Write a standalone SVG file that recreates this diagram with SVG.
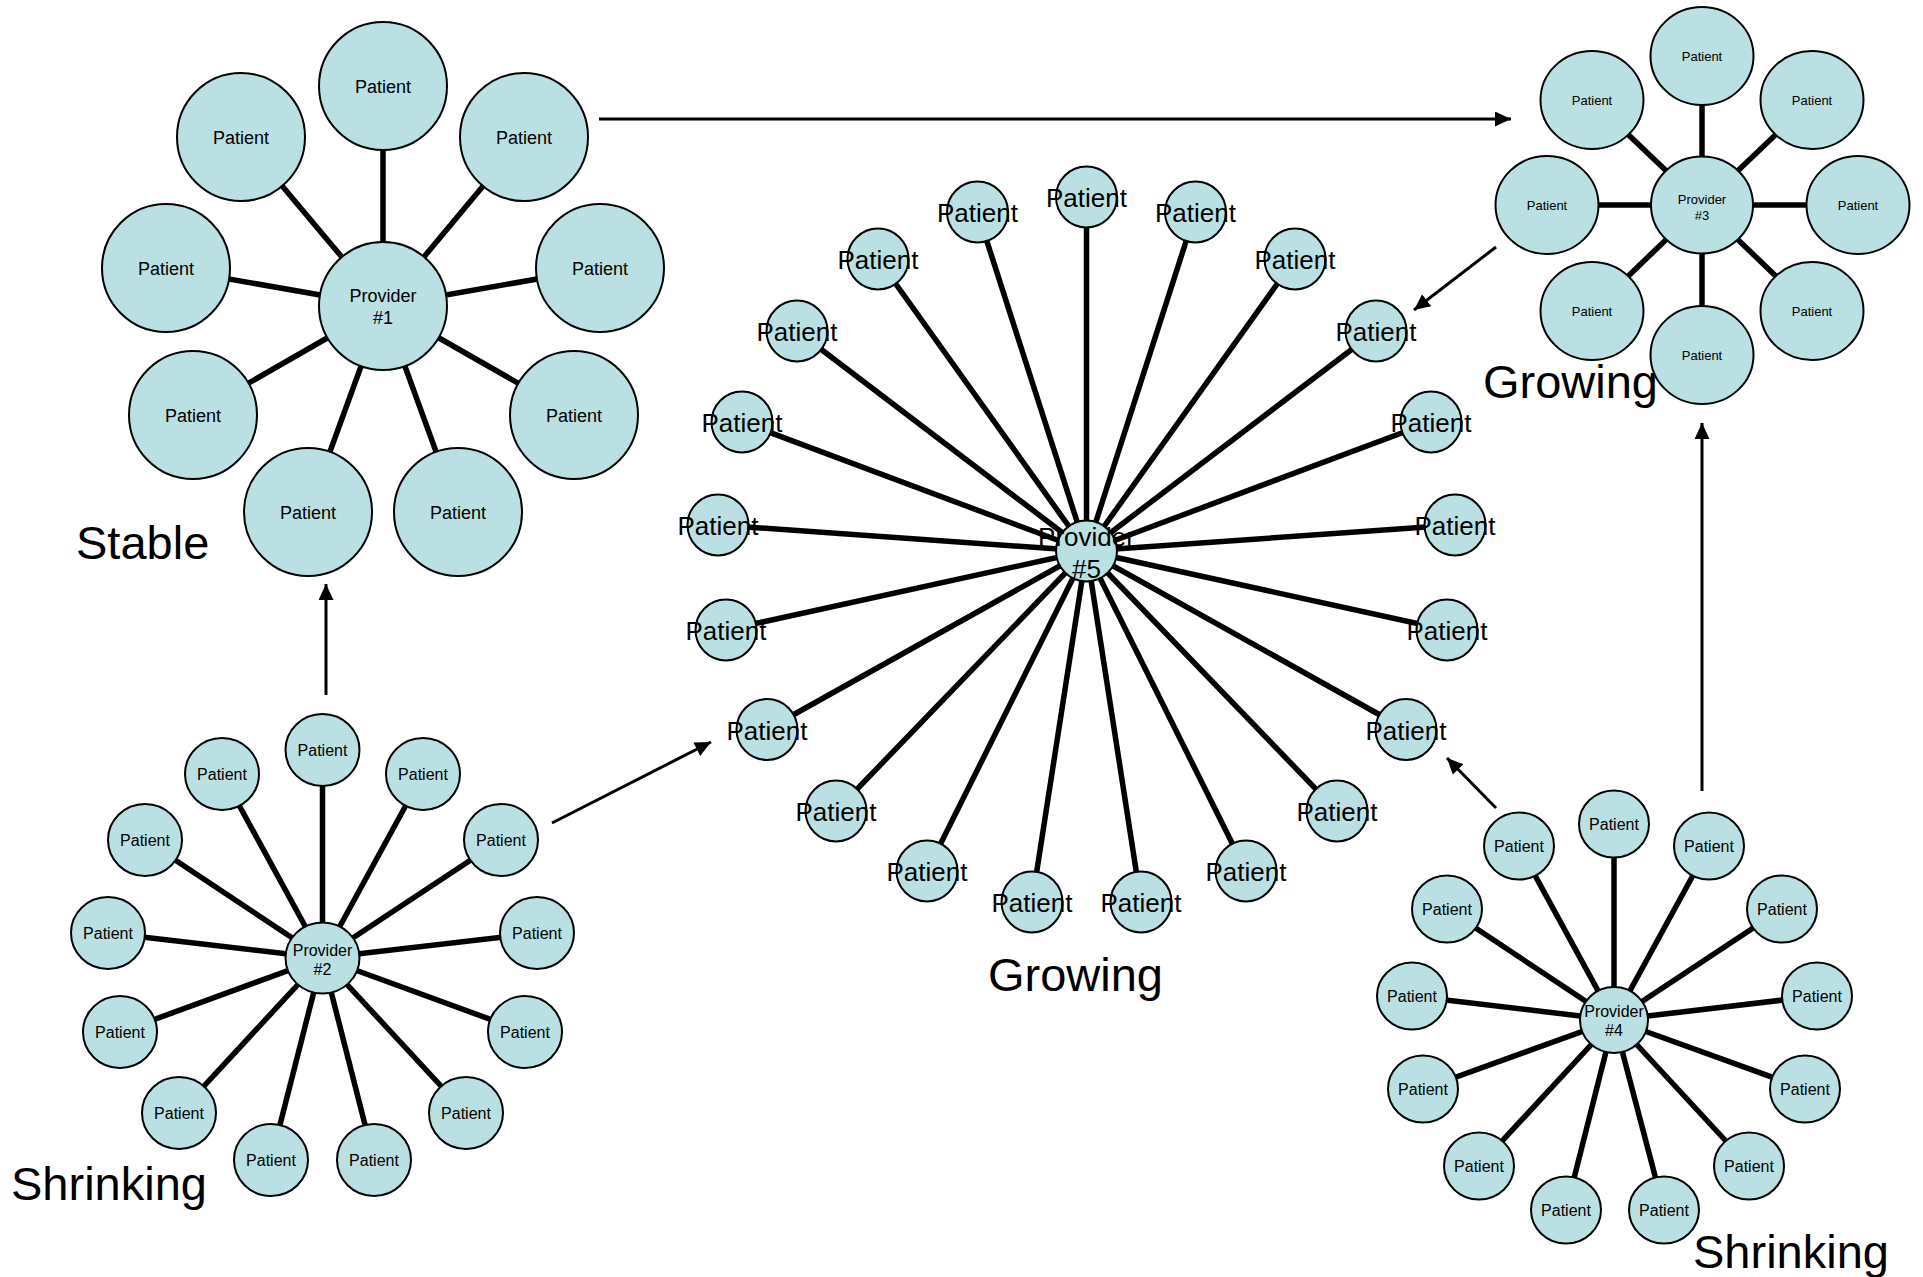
<svg xmlns="http://www.w3.org/2000/svg" width="1923" height="1277" viewBox="0 0 1923 1277">
<style>
.bg{fill:#fff}
.sp{stroke:#000;stroke-width:5.5;fill:none}
.ar{stroke:#000;stroke-width:3;fill:none;marker-end:url(#ah)}
.nf{fill:#BBE0E3;stroke:none}
.ns{fill:none;stroke:#000;stroke-width:2}
text{font-family:"Liberation Sans",Arial,Helvetica,sans-serif;fill:#000;text-anchor:middle}
.t1{font-size:18px}
.t2{font-size:16px}
.t3{font-size:13px}
.t5{font-size:26px}
.big{font-size:47px;text-anchor:start}
</style>
<defs>
<marker id="ah" markerUnits="userSpaceOnUse" markerWidth="17" markerHeight="16" refX="16" refY="7.5" orient="auto">
<path d="M0,0 L16,7.5 L0,15 z" fill="#000"/>
</marker>
</defs>
<rect class="bg" x="0" y="0" width="1923" height="1277"/>
<g id="connectors">
<g id="spokes-p1" class="sp">
<line x1="383" y1="306" x2="383" y2="86"/>
<line x1="383" y1="306" x2="241" y2="137"/>
<line x1="383" y1="306" x2="524" y2="137"/>
<line x1="383" y1="306" x2="166" y2="268"/>
<line x1="383" y1="306" x2="600" y2="268"/>
<line x1="383" y1="306" x2="193" y2="415"/>
<line x1="383" y1="306" x2="574" y2="415"/>
<line x1="383" y1="306" x2="308" y2="512"/>
<line x1="383" y1="306" x2="458" y2="512"/>
</g>
<g id="spokes-p3" class="sp">
<line x1="1702" y1="205" x2="1702" y2="56"/>
<line x1="1702" y1="205" x2="1592" y2="100"/>
<line x1="1702" y1="205" x2="1812" y2="100"/>
<line x1="1702" y1="205" x2="1547" y2="205"/>
<line x1="1702" y1="205" x2="1858" y2="205"/>
<line x1="1702" y1="205" x2="1592" y2="311"/>
<line x1="1702" y1="205" x2="1812" y2="311"/>
<line x1="1702" y1="205" x2="1702" y2="355"/>
</g>
<g id="spokes-p2" class="sp">
<line x1="322.5" y1="958" x2="322.5" y2="750"/>
<line x1="322.5" y1="958" x2="423" y2="774"/>
<line x1="322.5" y1="958" x2="501" y2="840"/>
<line x1="322.5" y1="958" x2="537" y2="933"/>
<line x1="322.5" y1="958" x2="525" y2="1032"/>
<line x1="322.5" y1="958" x2="466" y2="1113"/>
<line x1="322.5" y1="958" x2="374" y2="1160"/>
<line x1="322.5" y1="958" x2="271" y2="1160"/>
<line x1="322.5" y1="958" x2="179" y2="1113"/>
<line x1="322.5" y1="958" x2="120" y2="1032"/>
<line x1="322.5" y1="958" x2="108" y2="933"/>
<line x1="322.5" y1="958" x2="145" y2="840"/>
<line x1="322.5" y1="958" x2="222" y2="774"/>
</g>
<g id="spokes-p4" class="sp">
<line x1="1614" y1="1020" x2="1614" y2="824"/>
<line x1="1614" y1="1020" x2="1709" y2="846"/>
<line x1="1614" y1="1020" x2="1782" y2="909"/>
<line x1="1614" y1="1020" x2="1817" y2="996"/>
<line x1="1614" y1="1020" x2="1805" y2="1089"/>
<line x1="1614" y1="1020" x2="1749" y2="1166"/>
<line x1="1614" y1="1020" x2="1664" y2="1210"/>
<line x1="1614" y1="1020" x2="1566" y2="1210"/>
<line x1="1614" y1="1020" x2="1479" y2="1166"/>
<line x1="1614" y1="1020" x2="1423" y2="1089"/>
<line x1="1614" y1="1020" x2="1412" y2="996"/>
<line x1="1614" y1="1020" x2="1447" y2="909"/>
<line x1="1614" y1="1020" x2="1519" y2="846"/>
</g>
<g id="spokes-p5" class="sp">
<line x1="1086.5" y1="551" x2="1086.5" y2="197"/>
<line x1="1086.5" y1="551" x2="977.5" y2="212"/>
<line x1="1086.5" y1="551" x2="878" y2="259"/>
<line x1="1086.5" y1="551" x2="797" y2="331"/>
<line x1="1086.5" y1="551" x2="742" y2="422"/>
<line x1="1086.5" y1="551" x2="718" y2="525"/>
<line x1="1086.5" y1="551" x2="726" y2="630"/>
<line x1="1086.5" y1="551" x2="767" y2="729.5"/>
<line x1="1086.5" y1="551" x2="836" y2="811"/>
<line x1="1086.5" y1="551" x2="927" y2="871"/>
<line x1="1086.5" y1="551" x2="1032" y2="902"/>
<line x1="1086.5" y1="551" x2="1195.5" y2="212"/>
<line x1="1086.5" y1="551" x2="1295" y2="259"/>
<line x1="1086.5" y1="551" x2="1376" y2="331"/>
<line x1="1086.5" y1="551" x2="1431" y2="422"/>
<line x1="1086.5" y1="551" x2="1455" y2="525"/>
<line x1="1086.5" y1="551" x2="1447" y2="630"/>
<line x1="1086.5" y1="551" x2="1406" y2="729.5"/>
<line x1="1086.5" y1="551" x2="1337" y2="811"/>
<line x1="1086.5" y1="551" x2="1246" y2="871"/>
<line x1="1086.5" y1="551" x2="1141" y2="902"/>
</g>
<g id="arrows">
<line class="ar" x1="599" y1="119" x2="1511" y2="119"/>
<line class="ar" x1="1496" y1="247" x2="1414" y2="310"/>
<line class="ar" x1="552" y1="823" x2="711" y2="742"/>
<line class="ar" x1="1496" y1="808" x2="1447" y2="758"/>
<line class="ar" x1="1702" y1="791" x2="1702" y2="423"/>
<line class="ar" x1="326" y1="695" x2="326" y2="584"/>
</g>
</g>

<g id="provider1">
<circle class="nf" cx="383" cy="306" r="64"/>
<text class="t1" x="383" y="301.5">Provider</text>
<text class="t1" x="383" y="323.5">#1</text>
<circle class="ns" cx="383" cy="306" r="64"/>
</g>
<g id="p1-patients">
<g id="p1-1"><circle class="nf" cx="383" cy="86" r="64"/><text class="t1" x="383" y="92.5">Patient</text><circle class="ns" cx="383" cy="86" r="64"/></g>
<g id="p1-2"><circle class="nf" cx="241" cy="137" r="64"/><text class="t1" x="241" y="143.5">Patient</text><circle class="ns" cx="241" cy="137" r="64"/></g>
<g id="p1-3"><circle class="nf" cx="524" cy="137" r="64"/><text class="t1" x="524" y="143.5">Patient</text><circle class="ns" cx="524" cy="137" r="64"/></g>
<g id="p1-4"><circle class="nf" cx="166" cy="268" r="64"/><text class="t1" x="166" y="274.5">Patient</text><circle class="ns" cx="166" cy="268" r="64"/></g>
<g id="p1-5"><circle class="nf" cx="600" cy="268" r="64"/><text class="t1" x="600" y="274.5">Patient</text><circle class="ns" cx="600" cy="268" r="64"/></g>
<g id="p1-6"><circle class="nf" cx="193" cy="415" r="64"/><text class="t1" x="193" y="421.5">Patient</text><circle class="ns" cx="193" cy="415" r="64"/></g>
<g id="p1-7"><circle class="nf" cx="574" cy="415" r="64"/><text class="t1" x="574" y="421.5">Patient</text><circle class="ns" cx="574" cy="415" r="64"/></g>
<g id="p1-8"><circle class="nf" cx="308" cy="512" r="64"/><text class="t1" x="308" y="518.5">Patient</text><circle class="ns" cx="308" cy="512" r="64"/></g>
<g id="p1-9"><circle class="nf" cx="458" cy="512" r="64"/><text class="t1" x="458" y="518.5">Patient</text><circle class="ns" cx="458" cy="512" r="64"/></g>
</g>

<g id="provider3">
<ellipse class="nf" cx="1702" cy="205" rx="51" ry="48.5"/>
<text class="t3" x="1702" y="203.5">Provider</text>
<text class="t3" x="1702" y="219.5">#3</text>
<ellipse class="ns" cx="1702" cy="205" rx="51" ry="48.5"/>
</g>
<g id="p3-patients">
<g id="p3-1"><ellipse class="nf" cx="1702" cy="56" rx="51.5" ry="49"/><text class="t3" x="1702" y="61">Patient</text><ellipse class="ns" cx="1702" cy="56" rx="51.5" ry="49"/></g>
<g id="p3-2"><ellipse class="nf" cx="1592" cy="100" rx="51.5" ry="49"/><text class="t3" x="1592" y="105">Patient</text><ellipse class="ns" cx="1592" cy="100" rx="51.5" ry="49"/></g>
<g id="p3-3"><ellipse class="nf" cx="1812" cy="100" rx="51.5" ry="49"/><text class="t3" x="1812" y="105">Patient</text><ellipse class="ns" cx="1812" cy="100" rx="51.5" ry="49"/></g>
<g id="p3-4"><ellipse class="nf" cx="1547" cy="205" rx="51.5" ry="49"/><text class="t3" x="1547" y="210">Patient</text><ellipse class="ns" cx="1547" cy="205" rx="51.5" ry="49"/></g>
<g id="p3-5"><ellipse class="nf" cx="1858" cy="205" rx="51.5" ry="49"/><text class="t3" x="1858" y="210">Patient</text><ellipse class="ns" cx="1858" cy="205" rx="51.5" ry="49"/></g>
<g id="p3-6"><ellipse class="nf" cx="1592" cy="311" rx="51.5" ry="49"/><text class="t3" x="1592" y="316">Patient</text><ellipse class="ns" cx="1592" cy="311" rx="51.5" ry="49"/></g>
<g id="p3-7"><ellipse class="nf" cx="1812" cy="311" rx="51.5" ry="49"/><text class="t3" x="1812" y="316">Patient</text><ellipse class="ns" cx="1812" cy="311" rx="51.5" ry="49"/></g>
<g id="p3-8"><ellipse class="nf" cx="1702" cy="355" rx="51.5" ry="49"/><text class="t3" x="1702" y="360">Patient</text><ellipse class="ns" cx="1702" cy="355" rx="51.5" ry="49"/></g>
</g>

<g id="provider2">
<ellipse class="nf" cx="322.5" cy="958" rx="37" ry="35.5"/>
<text class="t2" x="322.5" y="956">Provider</text>
<text class="t2" x="322.5" y="975">#2</text>
<ellipse class="ns" cx="322.5" cy="958" rx="37" ry="35.5"/>
</g>
<g id="p2-patients">
<g id="p2-1"><ellipse class="nf" cx="322.5" cy="750" rx="37" ry="36"/><text class="t2" x="322.5" y="756">Patient</text><ellipse class="ns" cx="322.5" cy="750" rx="37" ry="36"/></g>
<g id="p2-2"><ellipse class="nf" cx="423" cy="774" rx="37" ry="36"/><text class="t2" x="423" y="780">Patient</text><ellipse class="ns" cx="423" cy="774" rx="37" ry="36"/></g>
<g id="p2-3"><ellipse class="nf" cx="501" cy="840" rx="37" ry="36"/><text class="t2" x="501" y="846">Patient</text><ellipse class="ns" cx="501" cy="840" rx="37" ry="36"/></g>
<g id="p2-4"><ellipse class="nf" cx="537" cy="933" rx="37" ry="36"/><text class="t2" x="537" y="939">Patient</text><ellipse class="ns" cx="537" cy="933" rx="37" ry="36"/></g>
<g id="p2-5"><ellipse class="nf" cx="525" cy="1032" rx="37" ry="36"/><text class="t2" x="525" y="1038">Patient</text><ellipse class="ns" cx="525" cy="1032" rx="37" ry="36"/></g>
<g id="p2-6"><ellipse class="nf" cx="466" cy="1113" rx="37" ry="36"/><text class="t2" x="466" y="1119">Patient</text><ellipse class="ns" cx="466" cy="1113" rx="37" ry="36"/></g>
<g id="p2-7"><ellipse class="nf" cx="374" cy="1160" rx="37" ry="36"/><text class="t2" x="374" y="1166">Patient</text><ellipse class="ns" cx="374" cy="1160" rx="37" ry="36"/></g>
<g id="p2-8"><ellipse class="nf" cx="271" cy="1160" rx="37" ry="36"/><text class="t2" x="271" y="1166">Patient</text><ellipse class="ns" cx="271" cy="1160" rx="37" ry="36"/></g>
<g id="p2-9"><ellipse class="nf" cx="179" cy="1113" rx="37" ry="36"/><text class="t2" x="179" y="1119">Patient</text><ellipse class="ns" cx="179" cy="1113" rx="37" ry="36"/></g>
<g id="p2-10"><ellipse class="nf" cx="120" cy="1032" rx="37" ry="36"/><text class="t2" x="120" y="1038">Patient</text><ellipse class="ns" cx="120" cy="1032" rx="37" ry="36"/></g>
<g id="p2-11"><ellipse class="nf" cx="108" cy="933" rx="37" ry="36"/><text class="t2" x="108" y="939">Patient</text><ellipse class="ns" cx="108" cy="933" rx="37" ry="36"/></g>
<g id="p2-12"><ellipse class="nf" cx="145" cy="840" rx="37" ry="36"/><text class="t2" x="145" y="846">Patient</text><ellipse class="ns" cx="145" cy="840" rx="37" ry="36"/></g>
<g id="p2-13"><ellipse class="nf" cx="222" cy="774" rx="37" ry="36"/><text class="t2" x="222" y="780">Patient</text><ellipse class="ns" cx="222" cy="774" rx="37" ry="36"/></g>
</g>

<g id="provider4">
<ellipse class="nf" cx="1614" cy="1020" rx="34" ry="33"/>
<text class="t2" x="1614" y="1017">Provider</text>
<text class="t2" x="1614" y="1036">#4</text>
<ellipse class="ns" cx="1614" cy="1020" rx="34" ry="33"/>
</g>
<g id="p4-patients">
<g id="p4-1"><ellipse class="nf" cx="1614" cy="824" rx="35" ry="33.5"/><text class="t2" x="1614" y="830">Patient</text><ellipse class="ns" cx="1614" cy="824" rx="35" ry="33.5"/></g>
<g id="p4-2"><ellipse class="nf" cx="1709" cy="846" rx="35" ry="33.5"/><text class="t2" x="1709" y="852">Patient</text><ellipse class="ns" cx="1709" cy="846" rx="35" ry="33.5"/></g>
<g id="p4-3"><ellipse class="nf" cx="1782" cy="909" rx="35" ry="33.5"/><text class="t2" x="1782" y="915">Patient</text><ellipse class="ns" cx="1782" cy="909" rx="35" ry="33.5"/></g>
<g id="p4-4"><ellipse class="nf" cx="1817" cy="996" rx="35" ry="33.5"/><text class="t2" x="1817" y="1002">Patient</text><ellipse class="ns" cx="1817" cy="996" rx="35" ry="33.5"/></g>
<g id="p4-5"><ellipse class="nf" cx="1805" cy="1089" rx="35" ry="33.5"/><text class="t2" x="1805" y="1095">Patient</text><ellipse class="ns" cx="1805" cy="1089" rx="35" ry="33.5"/></g>
<g id="p4-6"><ellipse class="nf" cx="1749" cy="1166" rx="35" ry="33.5"/><text class="t2" x="1749" y="1172">Patient</text><ellipse class="ns" cx="1749" cy="1166" rx="35" ry="33.5"/></g>
<g id="p4-7"><ellipse class="nf" cx="1664" cy="1210" rx="35" ry="33.5"/><text class="t2" x="1664" y="1216">Patient</text><ellipse class="ns" cx="1664" cy="1210" rx="35" ry="33.5"/></g>
<g id="p4-8"><ellipse class="nf" cx="1566" cy="1210" rx="35" ry="33.5"/><text class="t2" x="1566" y="1216">Patient</text><ellipse class="ns" cx="1566" cy="1210" rx="35" ry="33.5"/></g>
<g id="p4-9"><ellipse class="nf" cx="1479" cy="1166" rx="35" ry="33.5"/><text class="t2" x="1479" y="1172">Patient</text><ellipse class="ns" cx="1479" cy="1166" rx="35" ry="33.5"/></g>
<g id="p4-10"><ellipse class="nf" cx="1423" cy="1089" rx="35" ry="33.5"/><text class="t2" x="1423" y="1095">Patient</text><ellipse class="ns" cx="1423" cy="1089" rx="35" ry="33.5"/></g>
<g id="p4-11"><ellipse class="nf" cx="1412" cy="996" rx="35" ry="33.5"/><text class="t2" x="1412" y="1002">Patient</text><ellipse class="ns" cx="1412" cy="996" rx="35" ry="33.5"/></g>
<g id="p4-12"><ellipse class="nf" cx="1447" cy="909" rx="35" ry="33.5"/><text class="t2" x="1447" y="915">Patient</text><ellipse class="ns" cx="1447" cy="909" rx="35" ry="33.5"/></g>
<g id="p4-13"><ellipse class="nf" cx="1519" cy="846" rx="35" ry="33.5"/><text class="t2" x="1519" y="852">Patient</text><ellipse class="ns" cx="1519" cy="846" rx="35" ry="33.5"/></g>
</g>

<g id="provider5">
<circle class="nf" cx="1086.5" cy="551" r="30.5"/>
<text class="t5" x="1086.5" y="546">Provider</text>
<text class="t5" x="1086.5" y="578">#5</text>
<circle class="ns" cx="1086.5" cy="551" r="30.5"/>
</g>
<g id="p5-patients">
<g id="p5-1"><circle class="nf" cx="1086.5" cy="197" r="30.5"/><text class="t5" x="1086.5" y="207">Patient</text><circle class="ns" cx="1086.5" cy="197" r="30.5"/></g>
<g id="p5-2"><circle class="nf" cx="977.5" cy="212" r="30.5"/><text class="t5" x="977.5" y="222">Patient</text><circle class="ns" cx="977.5" cy="212" r="30.5"/></g>
<g id="p5-3"><circle class="nf" cx="878" cy="259" r="30.5"/><text class="t5" x="878" y="269">Patient</text><circle class="ns" cx="878" cy="259" r="30.5"/></g>
<g id="p5-4"><circle class="nf" cx="797" cy="331" r="30.5"/><text class="t5" x="797" y="341">Patient</text><circle class="ns" cx="797" cy="331" r="30.5"/></g>
<g id="p5-5"><circle class="nf" cx="742" cy="422" r="30.5"/><text class="t5" x="742" y="432">Patient</text><circle class="ns" cx="742" cy="422" r="30.5"/></g>
<g id="p5-6"><circle class="nf" cx="718" cy="525" r="30.5"/><text class="t5" x="718" y="535">Patient</text><circle class="ns" cx="718" cy="525" r="30.5"/></g>
<g id="p5-7"><circle class="nf" cx="726" cy="630" r="30.5"/><text class="t5" x="726" y="640">Patient</text><circle class="ns" cx="726" cy="630" r="30.5"/></g>
<g id="p5-8"><circle class="nf" cx="767" cy="729.5" r="30.5"/><text class="t5" x="767" y="739.5">Patient</text><circle class="ns" cx="767" cy="729.5" r="30.5"/></g>
<g id="p5-9"><circle class="nf" cx="836" cy="811" r="30.5"/><text class="t5" x="836" y="821">Patient</text><circle class="ns" cx="836" cy="811" r="30.5"/></g>
<g id="p5-10"><circle class="nf" cx="927" cy="871" r="30.5"/><text class="t5" x="927" y="881">Patient</text><circle class="ns" cx="927" cy="871" r="30.5"/></g>
<g id="p5-11"><circle class="nf" cx="1032" cy="902" r="30.5"/><text class="t5" x="1032" y="912">Patient</text><circle class="ns" cx="1032" cy="902" r="30.5"/></g>
<g id="p5-12"><circle class="nf" cx="1195.5" cy="212" r="30.5"/><text class="t5" x="1195.5" y="222">Patient</text><circle class="ns" cx="1195.5" cy="212" r="30.5"/></g>
<g id="p5-13"><circle class="nf" cx="1295" cy="259" r="30.5"/><text class="t5" x="1295" y="269">Patient</text><circle class="ns" cx="1295" cy="259" r="30.5"/></g>
<g id="p5-14"><circle class="nf" cx="1376" cy="331" r="30.5"/><text class="t5" x="1376" y="341">Patient</text><circle class="ns" cx="1376" cy="331" r="30.5"/></g>
<g id="p5-15"><circle class="nf" cx="1431" cy="422" r="30.5"/><text class="t5" x="1431" y="432">Patient</text><circle class="ns" cx="1431" cy="422" r="30.5"/></g>
<g id="p5-16"><circle class="nf" cx="1455" cy="525" r="30.5"/><text class="t5" x="1455" y="535">Patient</text><circle class="ns" cx="1455" cy="525" r="30.5"/></g>
<g id="p5-17"><circle class="nf" cx="1447" cy="630" r="30.5"/><text class="t5" x="1447" y="640">Patient</text><circle class="ns" cx="1447" cy="630" r="30.5"/></g>
<g id="p5-18"><circle class="nf" cx="1406" cy="729.5" r="30.5"/><text class="t5" x="1406" y="739.5">Patient</text><circle class="ns" cx="1406" cy="729.5" r="30.5"/></g>
<g id="p5-19"><circle class="nf" cx="1337" cy="811" r="30.5"/><text class="t5" x="1337" y="821">Patient</text><circle class="ns" cx="1337" cy="811" r="30.5"/></g>
<g id="p5-20"><circle class="nf" cx="1246" cy="871" r="30.5"/><text class="t5" x="1246" y="881">Patient</text><circle class="ns" cx="1246" cy="871" r="30.5"/></g>
<g id="p5-21"><circle class="nf" cx="1141" cy="902" r="30.5"/><text class="t5" x="1141" y="912">Patient</text><circle class="ns" cx="1141" cy="902" r="30.5"/></g>
</g>

<g id="labels">
<text class="big" x="76" y="559">Stable</text>
<text class="big" x="11" y="1200">Shrinking</text>
<text class="big" x="1483" y="398">Growing</text>
<text class="big" x="988" y="991">Growing</text>
<text class="big" x="1693" y="1268">Shrinking</text>
</g>
</svg>
